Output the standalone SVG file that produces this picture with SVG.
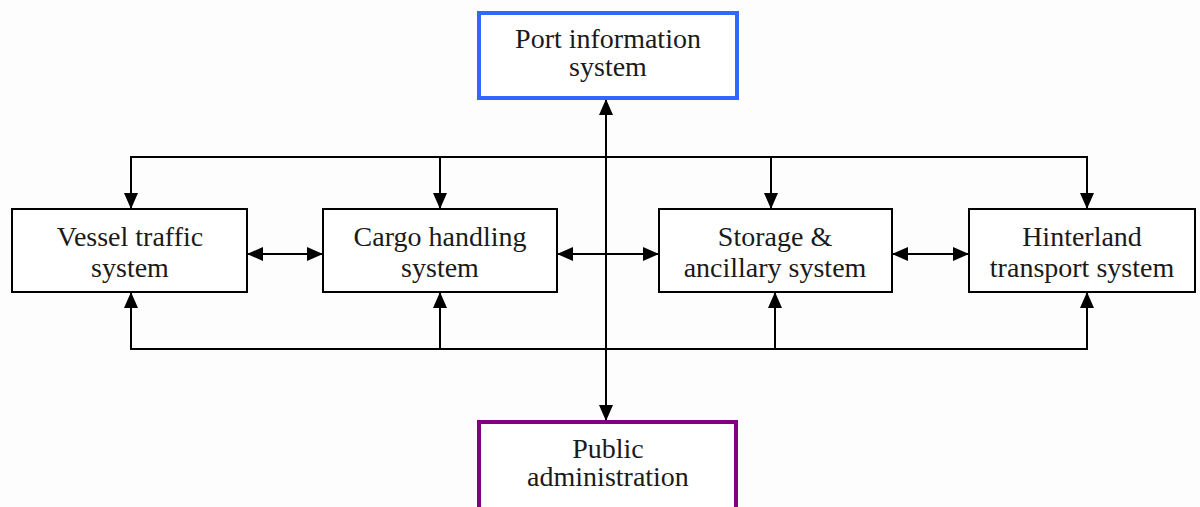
<svg xmlns="http://www.w3.org/2000/svg" width="1200" height="507" viewBox="0 0 1200 507">
<style>
.box{fill:#fff;stroke:#000;stroke-width:2}
.t{font-family:"Liberation Serif","Times New Roman",serif;font-size:28px;fill:#1a1a1a;text-anchor:middle}
.c{fill:none;stroke:#000;stroke-width:2}
</style>
<defs>
<marker id="a" viewBox="0 0 16 14" refX="16" refY="7" markerWidth="16" markerHeight="14" markerUnits="userSpaceOnUse" orient="auto-start-reverse">
<path d="M0,0 L16,7 L0,14 Z" fill="#000"/>
</marker>
</defs>
<rect width="1200" height="507" fill="#fdfdfd"/>
<g id="connectors">
<path class="c" d="M131,209 V157 H1087 V209"/>
<path class="c" d="M440,157 V209" marker-end="url(#a)"/>
<path class="c" d="M771,157 V209" marker-end="url(#a)"/>
<path class="c" d="M131,165 V209" marker-end="url(#a)"/>
<path class="c" d="M1087,165 V209" marker-end="url(#a)"/>
<path class="c" d="M131,292 V349 H1087 V292"/>
<path class="c" d="M131,340 V292" marker-end="url(#a)"/>
<path class="c" d="M440,349 V292" marker-end="url(#a)"/>
<path class="c" d="M775,349 V292" marker-end="url(#a)"/>
<path class="c" d="M1087,340 V292" marker-end="url(#a)"/>
<path class="c" d="M606,99 V421" marker-start="url(#a)" marker-end="url(#a)"/>
<path class="c" d="M247,254 H323" marker-start="url(#a)" marker-end="url(#a)"/>
<path class="c" d="M557,254 H659" marker-start="url(#a)" marker-end="url(#a)"/>
<path class="c" d="M892,254 H969" marker-start="url(#a)" marker-end="url(#a)"/>
</g>
<g id="port">
<rect x="479" y="13" width="258" height="85" fill="#fff" stroke="#3366ff" stroke-width="4"/>
<text class="t" x="608" y="48">Port information</text>
<text class="t" x="608" y="76">system</text>
</g>
<g id="vessel">
<rect class="box" x="12" y="209" width="235" height="83"/>
<text class="t" x="130" y="246">Vessel traffic</text>
<text class="t" x="130" y="277">system</text>
</g>
<g id="cargo">
<rect class="box" x="323" y="209" width="234" height="83"/>
<text class="t" x="440" y="246">Cargo handling</text>
<text class="t" x="440" y="277">system</text>
</g>
<g id="storage">
<rect class="box" x="659" y="209" width="233" height="83"/>
<text class="t" x="775" y="246">Storage &amp;</text>
<text class="t" x="775" y="277">ancillary system</text>
</g>
<g id="hinterland">
<rect class="box" x="969" y="209" width="226" height="83"/>
<text class="t" x="1082" y="246">Hinterland</text>
<text class="t" x="1082" y="277">transport system</text>
</g>
<g id="public">
<rect x="479" y="422" width="257" height="90" fill="#fff" stroke="#800080" stroke-width="4"/>
<text class="t" x="608" y="458">Public</text>
<text class="t" x="608" y="486">administration</text>
</g>
</svg>
